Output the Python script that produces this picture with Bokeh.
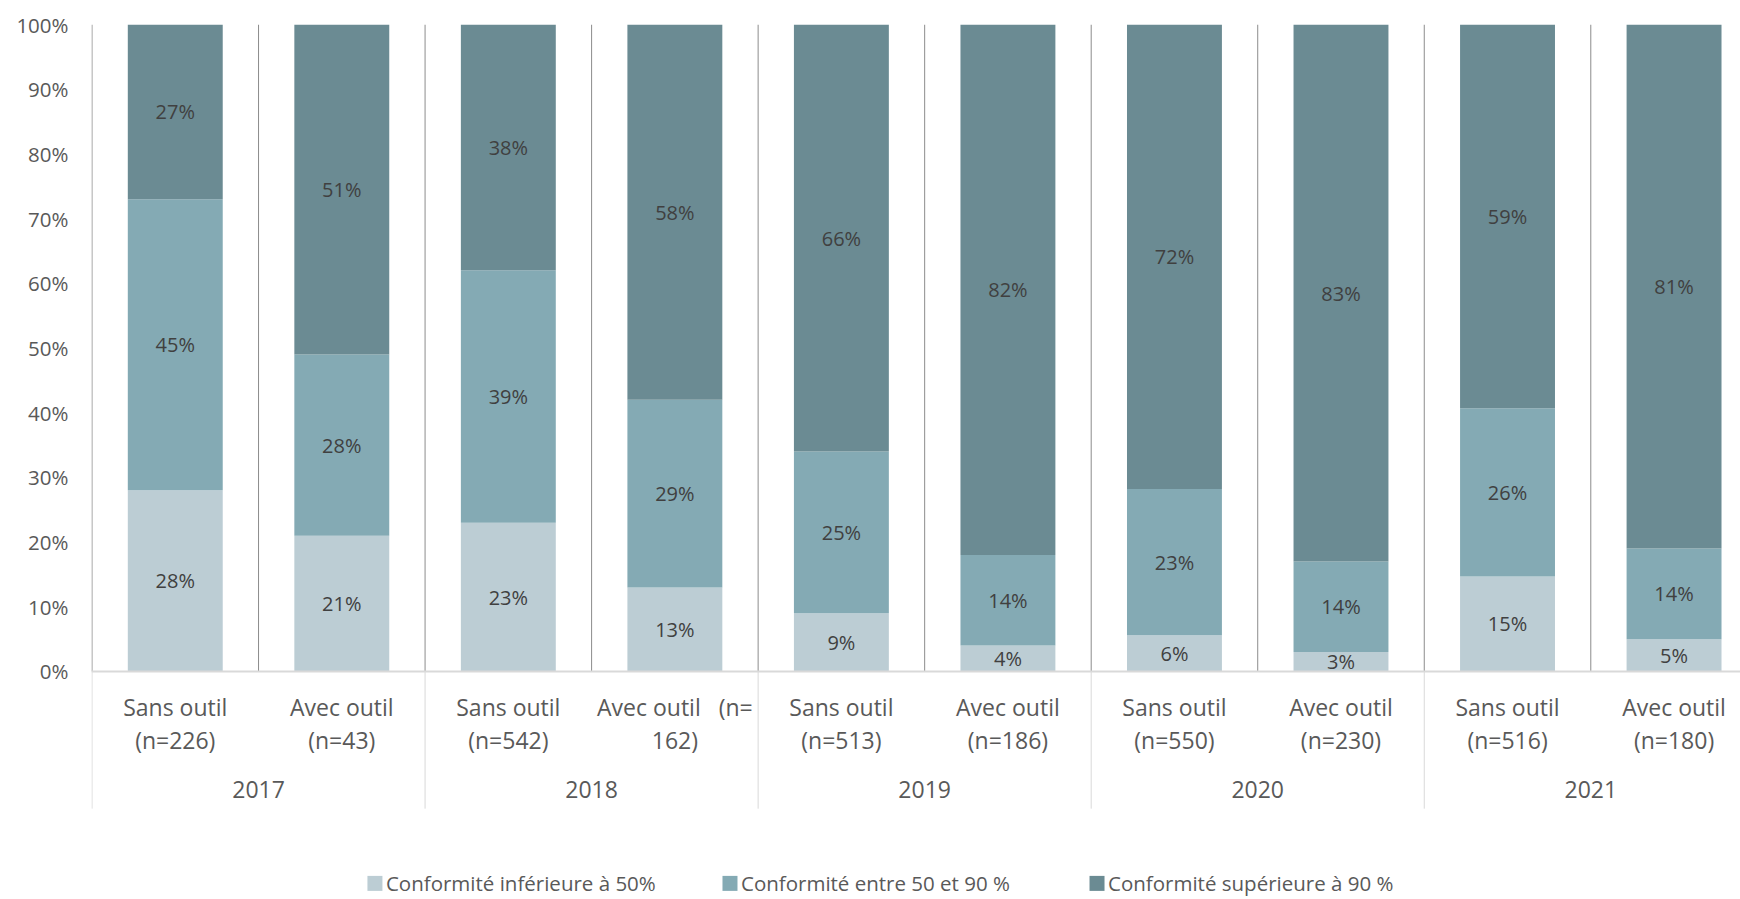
import numpy as np
from bokeh.plotting import figure
from bokeh.models import Range1d, FixedTicker, PrintfTickFormatter, ColumnDataSource
from bokeh.core.properties import value
from bokeh.embed import file_html
from bokeh.resources import INLINE

# ---------------- data ----------------
years = ["2017", "2018", "2019", "2020", "2021"]
cat_line1 = ["Sans outil", "Avec outil", "Sans outil", "Avec outil \u00a0 (n=", "Sans outil",
             "Avec outil", "Sans outil", "Avec outil", "Sans outil", "Avec outil"]
cat_line2 = ["(n=226)", "(n=43)", "(n=542)", "162)", "(n=513)",
             "(n=186)", "(n=550)", "(n=230)", "(n=516)", "(n=180)"]
series_names = ["Conformité inférieure à 50%", "Conformité entre 50 et 90 %",
                "Conformité supérieure à 90 %"]
low = [28, 21, 23, 13, 9, 4, 5.6, 3, 14.7, 5]
mid = [45, 28, 39, 29, 25, 14, 22.6, 14, 26, 14]
high = [27, 51, 38, 58, 66, 82, 71.8, 83, 59.3, 81]
y_ticks = [0, 10, 20, 30, 40, 50, 60, 70, 80, 90, 100]

colors = ["#bccdd4", "#84aab4", "#6b8b93"]
FONT = value("Open Sans")

n = len(low)
xs = np.arange(n) + 0.5
X0, X1 = -0.003, 9.899

p = figure(width=1740, height=899,
           x_range=Range1d(X0, X1), y_range=Range1d(-35.24, 100),
           output_backend="svg", toolbar_location=None, x_axis_location=None,
           min_border_left=91, min_border_right=0, min_border_top=24, min_border_bottom=0)
p.outline_line_color = None
p.grid.visible = False
p.background_fill_color = "white"

ax = p.yaxis[0]
ax.ticker = FixedTicker(ticks=y_ticks)
ax.formatter = PrintfTickFormatter(format="%d%%")
ax.axis_line_color = None
ax.major_tick_line_color = None
ax.minor_tick_line_color = None
ax.major_tick_out = 0
ax.major_tick_in = 0
ax.major_label_standoff = 23
ax.major_label_text_font = "Open Sans"
ax.major_label_text_font_size = "20.5px"
ax.major_label_text_color = "#595959"

# bars
src = ColumnDataSource(dict(x=xs, low=low, mid=mid, high=high))
p.vbar_stack(["low", "mid", "high"], x="x", width=0.57, source=src,
             color=colors, line_color=None)

# separators inside the plot (every category)
sep_x = np.arange(n)
p.segment(x0=sep_x, y0=[0] * n, x1=sep_x, y1=[100] * n,
          line_color="#8c8c8c", line_width=1)

# group separators below the axis
g_x = np.arange(0, n, 2)
p.segment(x0=g_x, y0=[0] * len(g_x), x1=g_x, y1=[-21.2] * len(g_x),
          line_color="#d9d9d9", line_width=1)

# baseline
p.segment(x0=[X0], y0=[0], x1=[X1], y1=[0], line_color="#d9d9d9", line_width=2)

# data labels
lo = np.array(low, float)
mi = np.array(mid, float)
hi = np.array(high, float)
lab_x = np.concatenate([xs, xs, xs])
lab_y = np.concatenate([lo / 2, lo + mi / 2, lo + mi + hi / 2])
lab_t = [f"{v:.0f}%" for v in np.concatenate([lo, mi, hi])]
p.text(x=lab_x, y=lab_y, text=lab_t, text_align="center", text_baseline="middle",
       text_font=FONT, text_font_size="20px", text_color="#404040")

# category labels
p.text(x=xs, y=[-5.5] * n, text=cat_line1, text_align="center", text_baseline="middle",
       text_font=FONT, text_font_size="23px", text_color="#595959")
p.text(x=xs, y=[-10.6] * n, text=cat_line2, text_align="center", text_baseline="middle",
       text_font=FONT, text_font_size="23px", text_color="#595959")
year_x = np.arange(len(years)) * 2 + 1
p.text(x=year_x, y=[-18.3] * len(years), text=years, text_align="center",
       text_baseline="middle", text_font=FONT, text_font_size="23px", text_color="#595959")

# legend
leg_x = [1.699, 3.831, 6.035]
leg_y = -32.75
p.scatter(x=leg_x, y=[leg_y] * 3, marker="square", size=15, color=colors, line_color=None)
p.text(x=leg_x, y=[leg_y] * 3, text=series_names, x_offset=11, text_align="left",
       text_baseline="middle", text_font=FONT, text_font_size="20.5px", text_color="#595959")

open("out.html", "w").write(file_html(p, INLINE))
